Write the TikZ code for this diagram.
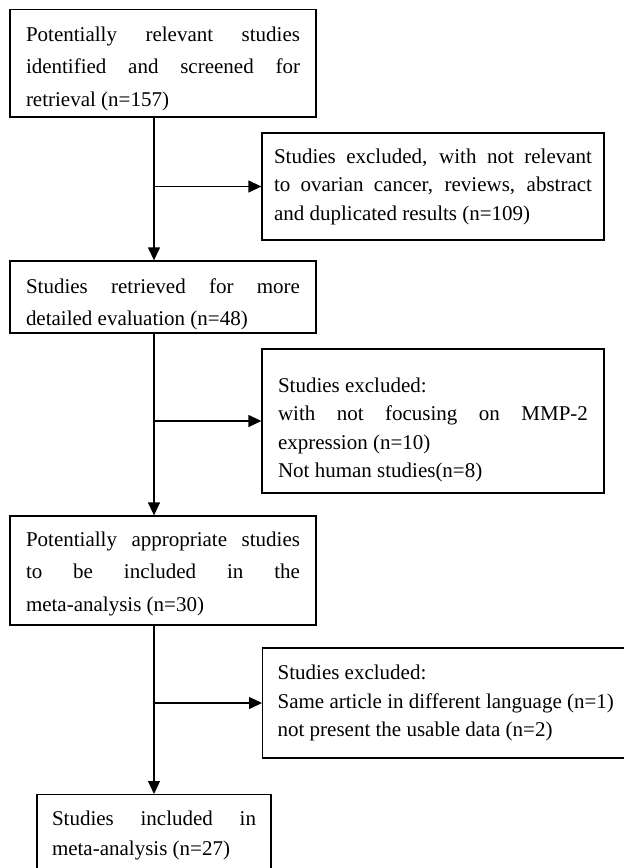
\documentclass[tikz,border=0pt]{standalone}
\usepackage{fontspec}
\setmainfont{Liberation Serif}
\usetikzlibrary{arrows.meta}
\hyphenpenalty=10000
\exhyphenpenalty=10000
\newcommand\firstline[1]{\rule{0pt}{#1}}
\begin{document}
\begin{tikzpicture}[x=1pt,y=-1pt,
  box/.style={draw, line width=1.3pt, rectangle, inner xsep=0pt, inner ysep=0pt, align=justify,
    font=\fontsize{21}{32.5}\selectfont},
  rbox/.style={box, font=\fontsize{21}{28.5}\selectfont},
  arr/.style={line width=1.3pt, -{Triangle[length=13pt,width=12pt]}}]
\useasboundingbox (0,0) rectangle (624,868);
\clip (0,0) rectangle (624,868);
\fill[white] (0,0) rectangle (624,868);

\node[box, minimum width=306pt, minimum height=107.5pt, text width=274pt] (B1) at (163,63.25)
  {\firstline{25pt}Potentially relevant studies\linebreak identified and screened for\linebreak retrieval (n=157)};
\node[rbox, minimum width=342pt, minimum height=107pt, text width=318pt] (B2) at (433,186.5)
  {Studies excluded, with not relevant\linebreak to ovarian cancer, reviews, abstract\linebreak and duplicated results (n=109)};
\node[box, minimum width=306pt, minimum height=72pt, text width=274pt] (B3) at (163,297)
  {\firstline{29pt}Studies retrieved for more\linebreak detailed evaluation (n=48)};
\node[rbox, minimum width=342pt, minimum height=144pt, text width=310pt] (B4) at (433,421)
  {\firstline{32pt}Studies excluded:\\ with not focusing on MMP-2\linebreak expression (n=10)\\ Not human studies(n=8)};
\node[box, minimum width=306pt, minimum height=109pt, text width=274pt] (B5) at (163,570.5)
  {\firstline{21pt}Potentially appropriate studies\linebreak to be included in the\linebreak meta-analysis (n=30)};
\node[rbox, anchor=west, inner xsep=15pt, minimum height=110pt, text width=350pt] (B6) at (262,703)
  {Studies excluded:\\ Same article in different language (n=1)\\ not present the usable data (n=2)};
\node[box, anchor=north, minimum width=234pt, minimum height=82pt, text width=204pt,
  font=\fontsize{21}{30}\selectfont] (B7) at (154,794)
  {Studies included in\linebreak meta-analysis (n=27)};

\coordinate (sp) at (154,0);
\draw[arr] (B1.south -| sp) -- (B3.north -| sp);
\draw[arr] (B2.west -| sp) -- (B2.west);
\draw[arr] (B3.south -| sp) -- (B5.north -| sp);
\draw[arr] (B4.west -| sp) -- (B4.west);
\draw[arr] (B5.south -| sp) -- (B7.north);
\draw[arr] (B6.west -| sp) -- (B6.west);
\end{tikzpicture}
\end{document}
